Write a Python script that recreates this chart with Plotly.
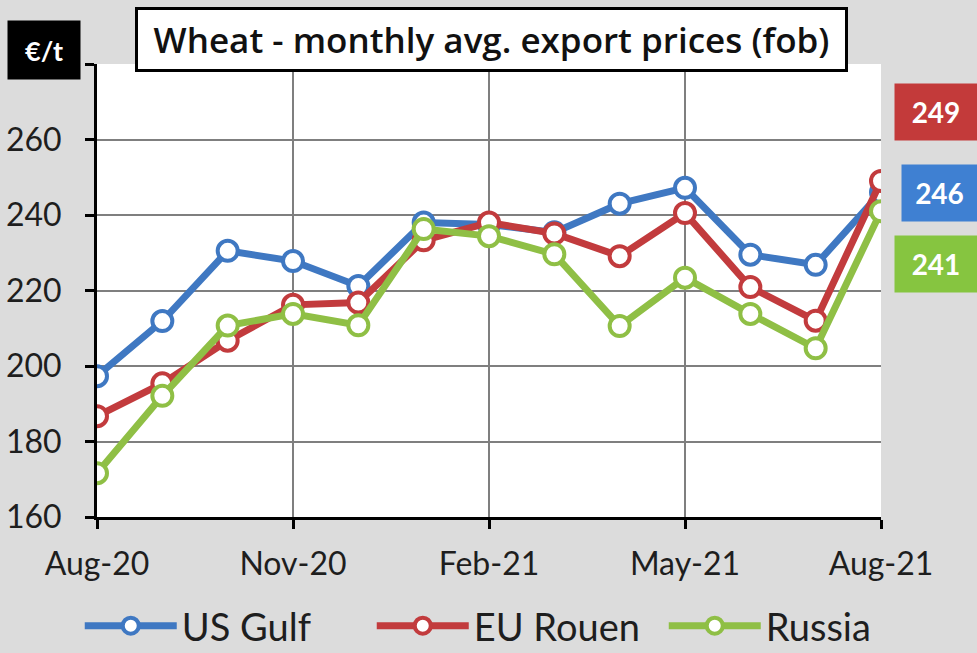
import plotly.graph_objects as go

months = ["Aug-20", "Sep-20", "Oct-20", "Nov-20", "Dec-20", "Jan-21", "Feb-21",
          "Mar-21", "Apr-21", "May-21", "Jun-21", "Jul-21", "Aug-21"]
us_gulf = [197.3, 211.9, 230.5, 227.8, 221.2, 238.0, 237.5, 235.4, 243.0, 247.2, 229.5, 226.8, 246.0]
eu_rouen = [186.7, 195.4, 206.7, 216.2, 216.8, 233.3, 238.0, 235.1, 229.1, 240.5, 220.9, 212.0, 249.0]
russia = [171.6, 192.1, 210.7, 213.8, 210.8, 236.3, 234.4, 229.6, 210.6, 223.4, 213.8, 204.7, 241.0]

series_names = ["US Gulf", "EU Rouen", "Russia"]
series_vals = [us_gulf, eu_rouen, russia]
colors = ["#3f78c2", "#c23b3d", "#8fbf45"]
box_colors = ["#3f80d2", "#c33a3a", "#86c540"]

x_ticks = ["Aug-20", "Nov-20", "Feb-21", "May-21", "Aug-21"]
y_ticks = [160, 180, 200, 220, 240, 260, 280]
y_ticktext = ["160", "180", "200", "220", "240", "260", ""]

title_text = "Wheat - monthly avg. export prices (fob)"
unit_text = "€/t"

FONT = "Lato, 'Open Sans', sans-serif"
TFONT = "'Open Sans', Lato, sans-serif"

fig = go.Figure()
for name, vals, col in zip(series_names, series_vals, colors):
    fig.add_trace(go.Scatter(
        x=months, y=vals, name=name, mode="lines+markers",
        line=dict(color=col, width=7),
        marker=dict(symbol="circle", size=20, color="white",
                    line=dict(color=col, width=4)),
    ))

fig.update_layout(
    width=977, height=653,
    margin=dict(l=97, r=96, t=64, b=136, autoexpand=False),
    paper_bgcolor="#dcdcdc",
    plot_bgcolor="white",
    font=dict(family=FONT, color="#1e1e1e", size=32),
    showlegend=True,
    legend=dict(orientation="h", x=-0.022, xanchor="left",
                y=-0.2406, yanchor="middle",
                font=dict(size=38, family=FONT, color="#1e1e1e"),
                bgcolor="rgba(0,0,0,0)", itemwidth=92, entrywidth=185,
                traceorder="normal"),
    xaxis=dict(
        type="category", categoryorder="array", categoryarray=months,
        range=[0, len(months) - 1], automargin=False,
        tickmode="array", tickvals=x_ticks, ticktext=x_ticks,
        showgrid=True, gridcolor="#7f7f7f", gridwidth=2,
        showline=True, linecolor="black", linewidth=3,
        ticks="outside", ticklen=9, tickwidth=3, tickcolor="black",
        ticklabelstandoff=8, zeroline=False, fixedrange=True,
    ),
    yaxis=dict(
        range=[160, 280], automargin=False,
        tickmode="array", tickvals=y_ticks, ticktext=y_ticktext,
        showgrid=True, gridcolor="#7f7f7f", gridwidth=2,
        showline=True, linecolor="black", linewidth=3,
        ticks="outside", ticklen=9, tickwidth=3, tickcolor="black",
        ticklabelstandoff=17, zeroline=False, fixedrange=True,
    ),
)

# Title box
fig.add_annotation(
    text=title_text, xref="paper", yref="paper", x=0.503, y=1.054,
    xanchor="center", yanchor="middle", showarrow=False,
    font=dict(size=35, family=TFONT, color="#111111", weight=600),
    bgcolor="white", bordercolor="black", borderwidth=3, borderpad=0,
    width=707, height=59,
)

# Unit box
fig.add_annotation(
    text="<b>" + unit_text + "</b>", xref="paper", yref="paper", x=-0.0676, y=1.031,
    xanchor="center", yanchor="middle", showarrow=False,
    font=dict(size=27, family=FONT, color="white"),
    bgcolor="black", borderpad=0, width=72, height=58,
)

# Latest value boxes
label_y = [0.716, 0.895, 0.5585]
label_w = [75, 82, 82]
label_x = [1.0745, 1.0702, 1.0702]
for vals, col, yy, ww, xx in zip(series_vals, box_colors, label_y, label_w, label_x):
    fig.add_annotation(
        text="<b>%d</b>" % round(vals[-1]), xref="paper", yref="paper", x=xx, y=yy,
        xanchor="center", yanchor="middle", showarrow=False,
        font=dict(size=28, family=FONT, color="white"),
        bgcolor=col, borderpad=0, width=ww, height=56,
    )

fig.write_html("out.html", config={"displayModeBar": False},
               post_script="document.body.style.margin='0';document.body.style.overflow='hidden';")
